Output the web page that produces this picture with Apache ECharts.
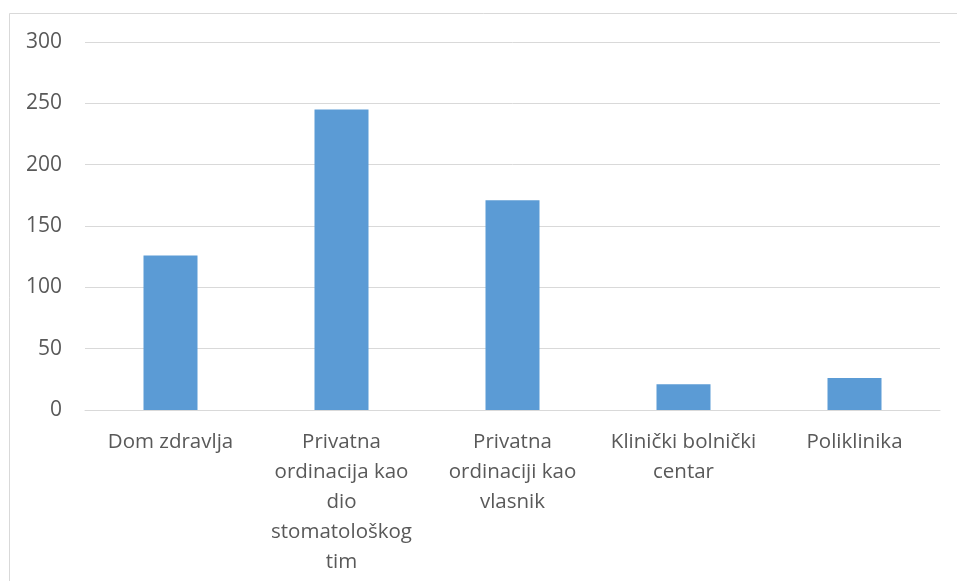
<!DOCTYPE html>
<html>
<head>
<meta charset="utf-8">
<script src="https://cdn.jsdelivr.net/npm/echarts@6/dist/echarts.min.js"></script>
<style>
  html, body { margin: 0; padding: 0; background: #fff; }
  #chart { width: 957px; height: 581px; }
</style>
</head>
<body>
<div id="chart"></div>
<script>
// kategorije i vrijednosti
const categories = ['Dom zdravlja', 'Privatna ordinacija kao dio stomatološkog tim', 'Privatna ordinaciji kao vlasnik', 'Klinički bolnički centar', 'Poliklinika'];
const wrappedLabels = ['Dom zdravlja', 'Privatna\nordinacija kao\ndio\nstomatološkog\ntim', 'Privatna\nordinaciji kao\nvlasnik', 'Klinički bolnički\ncentar', 'Poliklinika'];
const values = [126, 245, 171, 21, 26];
const yTicks = [0, 50, 100, 150, 200, 250, 300];

const chart = echarts.init(document.getElementById('chart'));

const option = {
  backgroundColor: '#fff',
  animation: false,
  textStyle: { fontFamily: 'Open Sans' },
  graphic: [{
    type: 'rect',
    shape: { x: 9.5, y: 13.5, width: 960, height: 600 },
    style: { fill: 'none', stroke: '#d9d9d9', lineWidth: 1 },
    silent: true
  }],
  grid: { left: 85, right: 17, top: 42, bottom: 171 },
  xAxis: {
    type: 'category',
    data: categories,
    axisLine: { lineStyle: { color: '#d9d9d9', width: 1 } },
    axisTick: { show: false },
    axisLabel: {
      interval: 0,
      margin: 17,
      color: '#595959',
      fontSize: 20.5,
      lineHeight: 30,
      formatter: function (v, i) { return wrappedLabels[i]; }
    }
  },
  yAxis: {
    type: 'value',
    min: yTicks[0],
    max: yTicks[yTicks.length - 1],
    interval: 50,
    axisLine: { show: false },
    axisTick: { show: false },
    splitLine: { lineStyle: { color: '#d9d9d9', width: 1 } },
    axisLabel: { color: '#595959', fontSize: 21, margin: 23 }
  },
  series: [{
    type: 'bar',
    data: values,
    barWidth: 54,
    itemStyle: { color: '#5b9bd5' }
  }]
};

chart.setOption(option);
</script>
</body>
</html>
